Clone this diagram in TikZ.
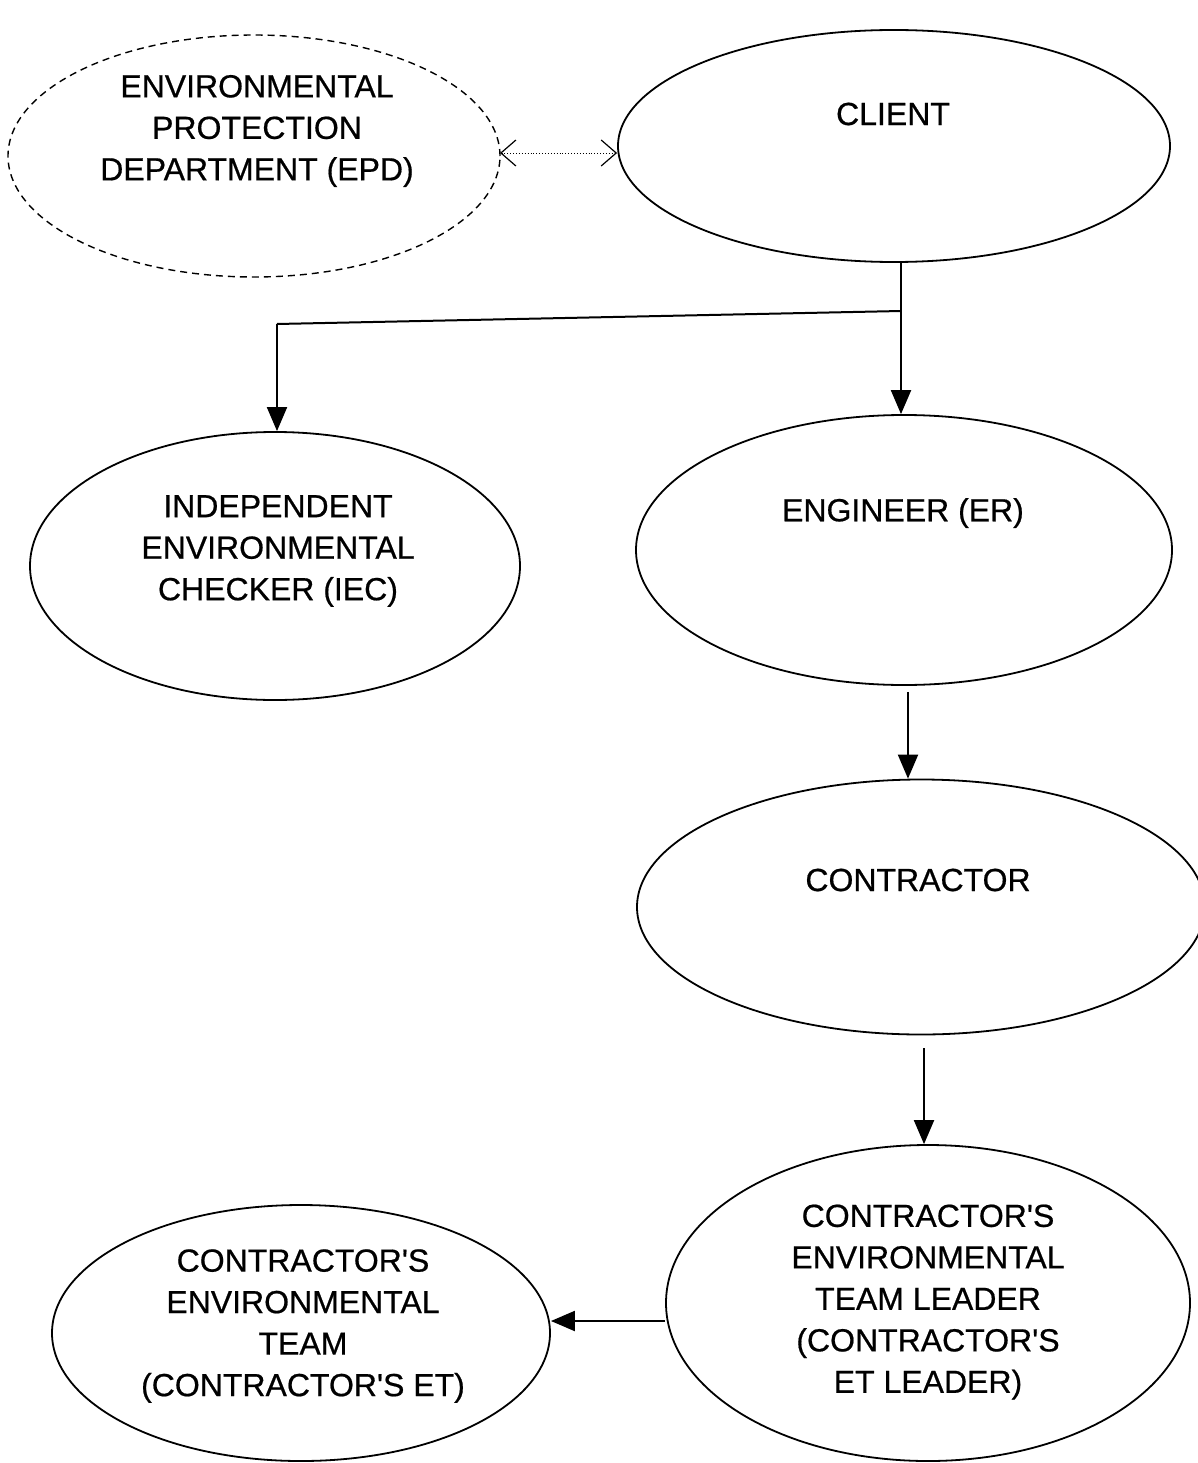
\documentclass[tikz,border=0pt]{standalone}
\usepackage{fontspec}
\setmainfont{Liberation Sans}[Ligatures=TeXOff,FakeBold=0.6]
\usetikzlibrary{shapes.geometric,arrows.meta}
\begin{document}
\begin{tikzpicture}[x=1pt,y=-1pt,
 ell/.style={ellipse,draw,line width=1.8pt,inner sep=0pt},
 txt/.style={align=center,font=\fontsize{32}{41.5}\selectfont,inner sep=0pt},
 arr/.style={line width=2pt,-{Triangle[width=20pt,length=24pt]}},
]
\useasboundingbox[fill=white] (0,0) rectangle (1198,1463);
% ellipses
\node[ell,dashed,dash pattern=on 7pt off 5pt,line width=1.4pt,minimum width=492pt,minimum height=242pt] (epd) at (254,156) {};
\node[ell,minimum width=552pt,minimum height=232pt] (client) at (894,146) {};
\node[ell,minimum width=490pt,minimum height=268pt] (iec) at (275,566) {};
\node[ell,minimum width=536pt,minimum height=270pt] (eng) at (904,550) {};
\node[ell,minimum width=568pt,minimum height=255pt] (con) at (921,907) {};
\node[ell,minimum width=524pt,minimum height=316pt] (lead) at (928,1303) {};
\node[ell,minimum width=498pt,minimum height=256pt] (et) at (301,1333) {};
% texts
\node[txt] (tepd) at (257,131) {ENVIRONMENTAL\\PROTECTION\\DEPARTMENT (EPD)};
\node[txt] (tclient) at (893,114) {CLIENT};
\node[txt] (tiec) at (278,551) {INDEPENDENT\\ENVIRONMENTAL\\CHECKER (IEC)};
\node[txt] (teng) at (903,513) {ENGINEER (ER)};
\node[txt] (tcon) at (918,880) {CONTRACTOR};
\node[txt] (tlead) at (928,1302) {CONTRACTOR'S\\ENVIRONMENTAL\\TEAM LEADER\\(CONTRACTOR'S\\ET LEADER)};
\node[txt] (tet) at (303,1326) {CONTRACTOR'S\\ENVIRONMENTAL\\TEAM\\(CONTRACTOR'S ET)};
% connectors
\coordinate (dl) at (500,153);
\draw[line width=0.9pt,dotted,{Straight Barb[length=15pt,width=26pt,line width=1.2pt]}-{Straight Barb[length=15pt,width=26pt,line width=1.2pt]}] (dl) -- (client.west |- dl);
\coordinate (br) at (901,311);
\coordinate (bl) at (277,324);
\draw[arr] (client.south -| br) -- (br) -- (eng.north -| br);
\draw[line width=2pt] (br) -- (bl);
\draw[arr] (bl) -- (iec.north -| bl);
\draw[arr,shorten <=6pt] (eng.south -| 908,0) -- (con.north -| 908,0);
\draw[arr,shorten <=13pt] (con.south -| 924,0) -- (lead.north -| 924,0);
\coordinate (lt) at (665,1321);
\draw[arr] (lt) -- (et.east |- lt);
\end{tikzpicture}
\end{document}
